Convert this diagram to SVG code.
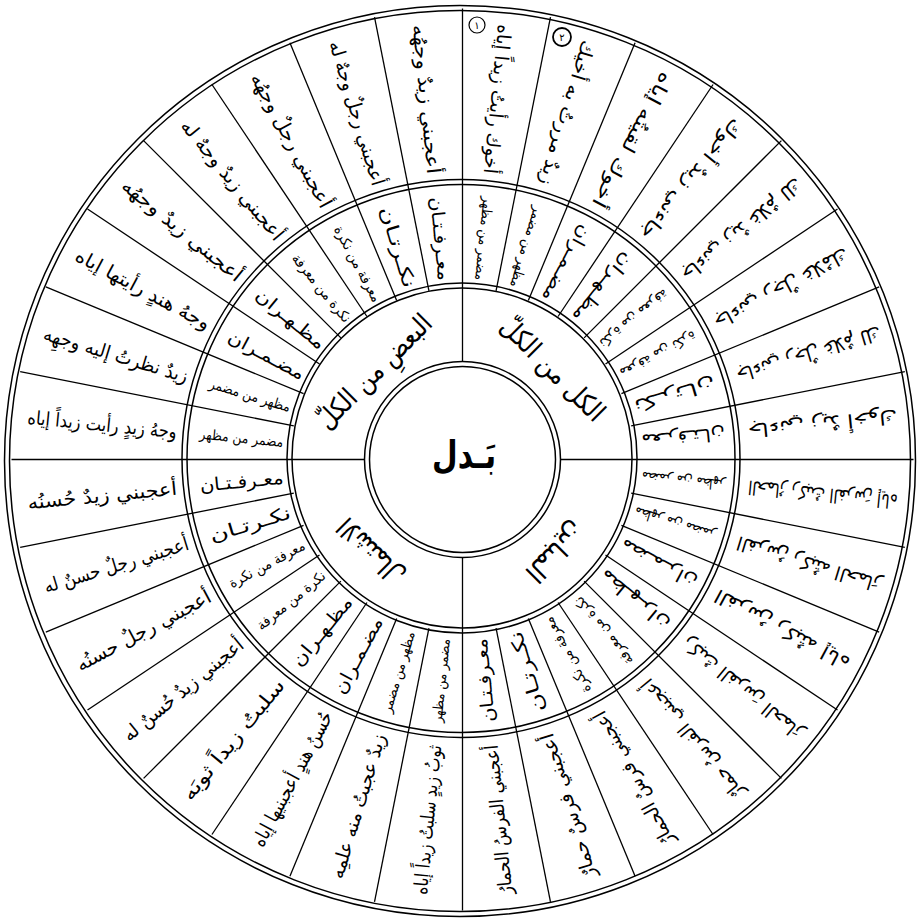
<svg xmlns="http://www.w3.org/2000/svg" width="919" height="920" viewBox="0 0 919 920">
<style>
.c{fill:none;stroke:#000;stroke-width:1.5}
.l line{stroke:#000;stroke-width:1.3}
text{font-family:"DejaVu Sans",sans-serif;fill:#000;text-anchor:middle;dominant-baseline:central}
.o{font-size:19px}
.i{font-size:18px}
.is{font-size:14px}
.q{font-size:27px}
.m{font-size:10px}
</style>
<rect width="919" height="920" fill="#fff"/>
<g id="rings">
<circle class="c" cx="460" cy="461" r="455.5"/>
<circle class="c" cx="460" cy="461" r="450.5"/>
<circle class="c" cx="461" cy="458.5" r="279"/>
<circle class="c" cx="461" cy="458.5" r="274"/>
<circle class="c" cx="462" cy="458" r="175"/>
<circle class="c" cx="462" cy="458" r="170"/>
<circle class="c" cx="462.5" cy="459.5" r="98"/>
<circle class="c" cx="462.5" cy="459.5" r="93"/>
</g>
<g id="connectors" class="l" transform="translate(462.5 459.5)">
<line x1="98" y1="0" x2="451" y2="0"/>
<line x1="98" y1="0" x2="451" y2="0" transform="rotate(90)"/>
<line x1="98" y1="0" x2="451" y2="0" transform="rotate(180)"/>
<line x1="98" y1="0" x2="451" y2="0" transform="rotate(270)"/>
<line x1="172" y1="0" x2="451" y2="0" transform="rotate(11.25)"/>
<line x1="172" y1="0" x2="451" y2="0" transform="rotate(22.5)"/>
<line x1="172" y1="0" x2="451" y2="0" transform="rotate(33.75)"/>
<line x1="172" y1="0" x2="451" y2="0" transform="rotate(45)"/>
<line x1="172" y1="0" x2="451" y2="0" transform="rotate(56.25)"/>
<line x1="172" y1="0" x2="451" y2="0" transform="rotate(67.5)"/>
<line x1="172" y1="0" x2="451" y2="0" transform="rotate(78.75)"/>
<line x1="172" y1="0" x2="451" y2="0" transform="rotate(101.25)"/>
<line x1="172" y1="0" x2="451" y2="0" transform="rotate(112.5)"/>
<line x1="172" y1="0" x2="451" y2="0" transform="rotate(123.75)"/>
<line x1="172" y1="0" x2="451" y2="0" transform="rotate(135)"/>
<line x1="172" y1="0" x2="451" y2="0" transform="rotate(146.25)"/>
<line x1="172" y1="0" x2="451" y2="0" transform="rotate(157.5)"/>
<line x1="172" y1="0" x2="451" y2="0" transform="rotate(168.75)"/>
<line x1="172" y1="0" x2="451" y2="0" transform="rotate(191.25)"/>
<line x1="172" y1="0" x2="451" y2="0" transform="rotate(202.5)"/>
<line x1="172" y1="0" x2="451" y2="0" transform="rotate(213.75)"/>
<line x1="172" y1="0" x2="451" y2="0" transform="rotate(225)"/>
<line x1="172" y1="0" x2="451" y2="0" transform="rotate(236.25)"/>
<line x1="172" y1="0" x2="451" y2="0" transform="rotate(247.5)"/>
<line x1="172" y1="0" x2="451" y2="0" transform="rotate(258.75)"/>
<line x1="172" y1="0" x2="451" y2="0" transform="rotate(281.25)"/>
<line x1="172" y1="0" x2="451" y2="0" transform="rotate(292.5)"/>
<line x1="172" y1="0" x2="451" y2="0" transform="rotate(303.75)"/>
<line x1="172" y1="0" x2="451" y2="0" transform="rotate(315)"/>
<line x1="172" y1="0" x2="451" y2="0" transform="rotate(326.25)"/>
<line x1="172" y1="0" x2="451" y2="0" transform="rotate(337.5)"/>
<line x1="172" y1="0" x2="451" y2="0" transform="rotate(348.75)"/>
</g>
<g id="center">
<text x="464" y="455" font-size="38" font-weight="bold" textLength="64" lengthAdjust="spacingAndGlyphs">بَـدل</text>
</g>
<g id="quadrants" transform="translate(462.5 459.5)">
<g id="q-kull"><text class="q" transform="rotate(315) translate(128 0) rotate(90)" textLength="135" lengthAdjust="spacingAndGlyphs">الكل من الكلّ</text></g>
<g id="q-baad"><text class="q" transform="rotate(225) translate(125 0) rotate(90)" textLength="150" lengthAdjust="spacingAndGlyphs">البعضِ من الكلّ</text></g>
<g id="q-ishtimal"><text class="q" transform="rotate(135) translate(130 0) rotate(90)" textLength="82" lengthAdjust="spacingAndGlyphs">الاشتمال</text></g>
<g id="q-mubayin"><text class="q" transform="rotate(45) translate(132 0) rotate(90)" textLength="72" lengthAdjust="spacingAndGlyphs">المباين</text></g>
</g>
<g id="sectors" transform="translate(462.5 459.5)">
<g id="s0"><text class="o" transform="rotate(-174.375) translate(-362 0)" textLength="150" lengthAdjust="spacingAndGlyphs">الحمارُ ركبتُ الفرسَ إياه</text><text class="is" transform="rotate(-174.375) translate(-222 0)" textLength="84" lengthAdjust="spacingAndGlyphs">مضمر من مظهر</text></g>
<g id="s1"><text class="o" transform="rotate(-163.125) translate(-362 0)" textLength="150" lengthAdjust="spacingAndGlyphs">الفرسُ ركبتُه الحمارَ</text><text class="is" transform="rotate(-163.125) translate(-222 0)" textLength="84" lengthAdjust="spacingAndGlyphs">مظهر من مضمر</text></g>
<g id="s2"><text class="o" transform="rotate(-151.875) translate(-362 0)" textLength="150" lengthAdjust="spacingAndGlyphs">الفرسُ ركبتُه إياه</text><text class="i" transform="rotate(-151.875) translate(-222 0)" textLength="84" lengthAdjust="spacingAndGlyphs">مضـمـران</text></g>
<g id="s3"><text class="o" transform="rotate(-140.625) translate(-362 0)" textLength="150" lengthAdjust="spacingAndGlyphs">ركبتُ الفرسَ الحمارَ</text><text class="i" transform="rotate(-140.625) translate(-222 0)" textLength="84" lengthAdjust="spacingAndGlyphs">مظـهـران</text></g>
<g id="s4"><text class="o" transform="rotate(-129.375) translate(-362 0)" textLength="150" lengthAdjust="spacingAndGlyphs">أعجبني الفرسُ حمارٌ</text><text class="is" transform="rotate(-129.375) translate(-222 0)" textLength="84" lengthAdjust="spacingAndGlyphs">نكرة من معرفة</text></g>
<g id="s5"><text class="o" transform="rotate(-118.125) translate(-362 0)" textLength="150" lengthAdjust="spacingAndGlyphs">أعجبني فرسٌ الحمارُ</text><text class="is" transform="rotate(-118.125) translate(-222 0)" textLength="84" lengthAdjust="spacingAndGlyphs">معرفة من نكرة</text></g>
<g id="s6"><text class="o" transform="rotate(-106.875) translate(-362 0)" textLength="150" lengthAdjust="spacingAndGlyphs">أعجبني فرسٌ حمارٌ</text><text class="i" transform="rotate(-106.875) translate(-222 0)" textLength="84" lengthAdjust="spacingAndGlyphs">نكـرتـان</text></g>
<g id="s7"><text class="o" transform="rotate(-95.625) translate(-362 0)" textLength="150" lengthAdjust="spacingAndGlyphs">أعجبني الفرسُ الحمارُ</text><text class="i" transform="rotate(-95.625) translate(-222 0)" textLength="84" lengthAdjust="spacingAndGlyphs">معـرفـتـان</text></g>
<g id="s8"><text class="o" transform="rotate(-84.375) translate(-362 0)" textLength="150" lengthAdjust="spacingAndGlyphs">ثوبُ زيدٍ سلبتُ زيداً إياه</text><text class="is" transform="rotate(-84.375) translate(-222 0)" textLength="84" lengthAdjust="spacingAndGlyphs">مضمر من مظهر</text></g>
<g id="s9"><text class="o" transform="rotate(-73.125) translate(-362 0)" textLength="150" lengthAdjust="spacingAndGlyphs">زيدٌ عجبتُ منه علمِه</text><text class="is" transform="rotate(-73.125) translate(-222 0)" textLength="84" lengthAdjust="spacingAndGlyphs">مظهر من مضمر</text></g>
<g id="s10"><text class="o" transform="rotate(-61.875) translate(-362 0)" textLength="150" lengthAdjust="spacingAndGlyphs">حُسنُ هندٍ أعجبنيها إياه</text><text class="i" transform="rotate(-61.875) translate(-222 0)" textLength="84" lengthAdjust="spacingAndGlyphs">مضـمـران</text></g>
<g id="s11"><text class="o" transform="rotate(-50.625) translate(-362 0)" textLength="150" lengthAdjust="spacingAndGlyphs">سلبتُ زيداً ثوبَه</text><text class="i" transform="rotate(-50.625) translate(-222 0)" textLength="84" lengthAdjust="spacingAndGlyphs">مظـهـران</text></g>
<g id="s12"><text class="o" transform="rotate(-39.375) translate(-362 0)" textLength="150" lengthAdjust="spacingAndGlyphs">أعجبني زيدٌ حُسنٌ له</text><text class="is" transform="rotate(-39.375) translate(-222 0)" textLength="84" lengthAdjust="spacingAndGlyphs">نكرة من معرفة</text></g>
<g id="s13"><text class="o" transform="rotate(-28.125) translate(-362 0)" textLength="150" lengthAdjust="spacingAndGlyphs">أعجبني رجلٌ حسنُه</text><text class="is" transform="rotate(-28.125) translate(-222 0)" textLength="84" lengthAdjust="spacingAndGlyphs">معرفة من نكرة</text></g>
<g id="s14"><text class="o" transform="rotate(-16.875) translate(-362 0)" textLength="150" lengthAdjust="spacingAndGlyphs">أعجبني رجلٌ حسنٌ له</text><text class="i" transform="rotate(-16.875) translate(-222 0)" textLength="84" lengthAdjust="spacingAndGlyphs">نكـرتـان</text></g>
<g id="s15"><text class="o" transform="rotate(-5.625) translate(-362 0)" textLength="150" lengthAdjust="spacingAndGlyphs">أعجبني زيدٌ حُسنُه</text><text class="i" transform="rotate(-5.625) translate(-222 0)" textLength="84" lengthAdjust="spacingAndGlyphs">معـرفـتـان</text></g>
<g id="s16"><text class="o" transform="rotate(5.625) translate(-362 0)" textLength="150" lengthAdjust="spacingAndGlyphs">وجهُ زيدٍ رأيت زيداً إياه</text><text class="is" transform="rotate(5.625) translate(-222 0)" textLength="84" lengthAdjust="spacingAndGlyphs">مضمر من مظهر</text></g>
<g id="s17"><text class="o" transform="rotate(16.875) translate(-362 0)" textLength="150" lengthAdjust="spacingAndGlyphs">زيدٌ نظرتُ إليه وجهِه</text><text class="is" transform="rotate(16.875) translate(-222 0)" textLength="84" lengthAdjust="spacingAndGlyphs">مظهر من مضمر</text></g>
<g id="s18"><text class="o" transform="rotate(28.125) translate(-362 0)" textLength="150" lengthAdjust="spacingAndGlyphs">وجهُ هندٍ رأيتها إياه</text><text class="i" transform="rotate(28.125) translate(-222 0)" textLength="84" lengthAdjust="spacingAndGlyphs">مضـمـران</text></g>
<g id="s19"><text class="o" transform="rotate(39.375) translate(-362 0)" textLength="150" lengthAdjust="spacingAndGlyphs">أعجبني زيدٌ وجهُه</text><text class="i" transform="rotate(39.375) translate(-222 0)" textLength="84" lengthAdjust="spacingAndGlyphs">مظـهـران</text></g>
<g id="s20"><text class="o" transform="rotate(50.625) translate(-362 0)" textLength="150" lengthAdjust="spacingAndGlyphs">أعجبني زيدٌ وجهٌ له</text><text class="is" transform="rotate(50.625) translate(-222 0)" textLength="84" lengthAdjust="spacingAndGlyphs">نكرة من معرفة</text></g>
<g id="s21"><text class="o" transform="rotate(61.875) translate(-362 0)" textLength="150" lengthAdjust="spacingAndGlyphs">أعجبني رجلٌ وجهُه</text><text class="is" transform="rotate(61.875) translate(-222 0)" textLength="84" lengthAdjust="spacingAndGlyphs">معرفة من نكرة</text></g>
<g id="s22"><text class="o" transform="rotate(73.125) translate(-362 0)" textLength="150" lengthAdjust="spacingAndGlyphs">أعجبني رجلٌ وجهٌ له</text><text class="i" transform="rotate(73.125) translate(-222 0)" textLength="84" lengthAdjust="spacingAndGlyphs">نكـرتـان</text></g>
<g id="s23"><text class="o" transform="rotate(84.375) translate(-362 0)" textLength="150" lengthAdjust="spacingAndGlyphs">أعجبني زيدٌ وجهُه</text><text class="i" transform="rotate(84.375) translate(-222 0)" textLength="84" lengthAdjust="spacingAndGlyphs">معـرفـتـان</text></g>
<g id="s24"><text class="o" transform="rotate(95.625) translate(-362 0)" textLength="150" lengthAdjust="spacingAndGlyphs">أخوك رأيتُ زيداً إياه</text><text class="is" transform="rotate(95.625) translate(-222 0)" textLength="84" lengthAdjust="spacingAndGlyphs">مضمر من مظهر</text></g>
<g id="s25"><text class="o" transform="rotate(106.875) translate(-362 0)" textLength="150" lengthAdjust="spacingAndGlyphs">زيدٌ مررتُ به أخيك</text><text class="is" transform="rotate(106.875) translate(-222 0)" textLength="84" lengthAdjust="spacingAndGlyphs">مظهر من مضمر</text></g>
<g id="s26"><text class="o" transform="rotate(118.125) translate(-362 0)" textLength="150" lengthAdjust="spacingAndGlyphs">أخوك لقيتُه إياه</text><text class="i" transform="rotate(118.125) translate(-222 0)" textLength="84" lengthAdjust="spacingAndGlyphs">مضـمـران</text></g>
<g id="s27"><text class="o" transform="rotate(129.375) translate(-362 0)" textLength="150" lengthAdjust="spacingAndGlyphs">جاءني زيدٌ أخوك</text><text class="i" transform="rotate(129.375) translate(-222 0)" textLength="84" lengthAdjust="spacingAndGlyphs">مظـهـران</text></g>
<g id="s28"><text class="o" transform="rotate(140.625) translate(-362 0)" textLength="150" lengthAdjust="spacingAndGlyphs">جاءني زيدٌ غلامٌ لك</text><text class="is" transform="rotate(140.625) translate(-222 0)" textLength="84" lengthAdjust="spacingAndGlyphs">نكرة من معرفة</text></g>
<g id="s29"><text class="o" transform="rotate(151.875) translate(-362 0)" textLength="150" lengthAdjust="spacingAndGlyphs">جاءني رجلٌ غلامُك</text><text class="is" transform="rotate(151.875) translate(-222 0)" textLength="84" lengthAdjust="spacingAndGlyphs">معرفة من نكرة</text></g>
<g id="s30"><text class="o" transform="rotate(163.125) translate(-362 0)" textLength="150" lengthAdjust="spacingAndGlyphs">جاءني رجلٌ غلامٌ لك</text><text class="i" transform="rotate(163.125) translate(-222 0)" textLength="84" lengthAdjust="spacingAndGlyphs">نكـرتـان</text></g>
<g id="s31"><text class="o" transform="rotate(174.375) translate(-362 0)" textLength="150" lengthAdjust="spacingAndGlyphs">جاءني زيدٌ أخوك</text><text class="i" transform="rotate(174.375) translate(-222 0)" textLength="84" lengthAdjust="spacingAndGlyphs">معـرفـتـان</text></g>
</g>
<g id="marks">
<circle cx="477" cy="25" r="8" fill="none" stroke="#000" stroke-width="1.2"/>
<text class="m" x="477" y="25">١</text>
<circle cx="562" cy="37" r="9" fill="none" stroke="#000" stroke-width="1.8"/>
<text class="m" x="562" y="37">٢</text>
</g>
</svg>
